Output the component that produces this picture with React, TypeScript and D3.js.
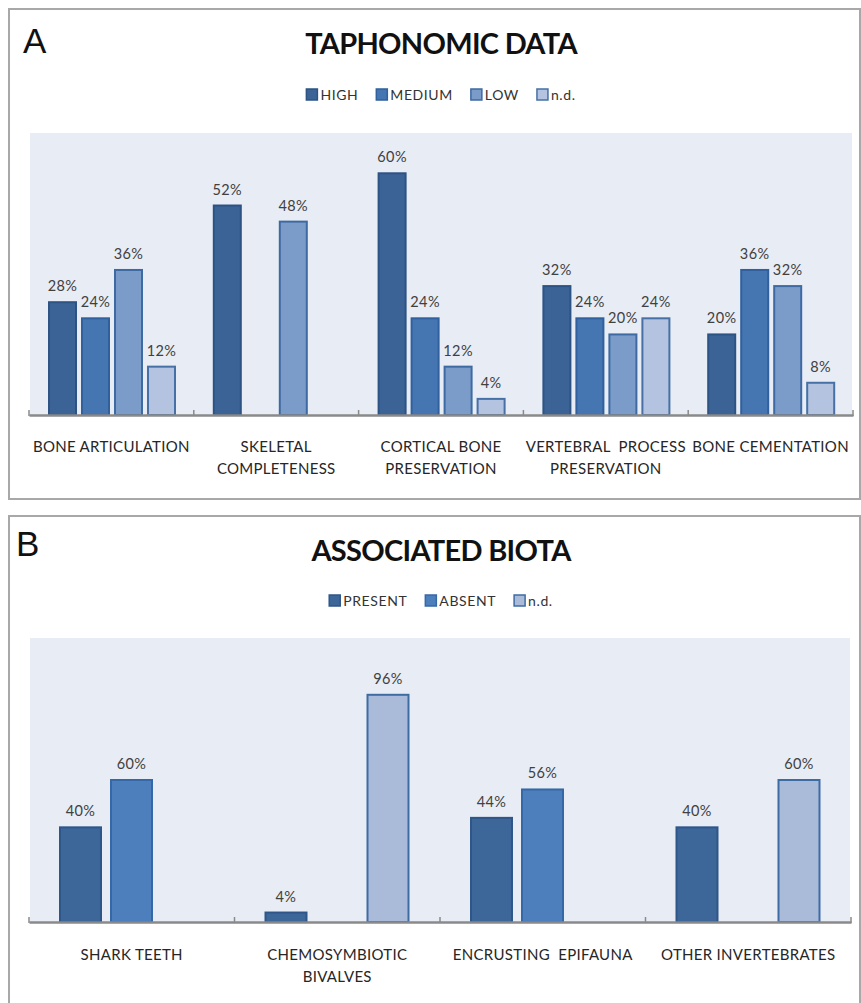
import React, { useEffect, useRef } from "react";
import * as d3 from "d3";

const WIDTH = 861;
const HEIGHT = 1003;

// Panel A – taphonomic data (percent of specimens)
const TAPHONOMY_CATEGORIES = [
  "BONE ARTICULATION",
  "SKELETAL\nCOMPLETENESS",
  "CORTICAL BONE\nPRESERVATION",
  "VERTEBRAL  PROCESS\nPRESERVATION",
  "BONE CEMENTATION",
];
const TAPHONOMY_SERIES = ["HIGH", "MEDIUM", "LOW", "n.d."];
const TAPHONOMY_HIGH = [28, 52, 60, 32, 20];
const TAPHONOMY_MEDIUM = [24, null, 24, 24, 36];
const TAPHONOMY_LOW = [36, 48, 12, 20, 32];
const TAPHONOMY_ND = [12, null, 4, 24, 8];

// Panel B – associated biota (percent of specimens)
const BIOTA_CATEGORIES = [
  "SHARK TEETH",
  "CHEMOSYMBIOTIC\nBIVALVES",
  "ENCRUSTING  EPIFAUNA",
  "OTHER INVERTEBRATES",
];
const BIOTA_SERIES = ["PRESENT", "ABSENT", "n.d."];
const BIOTA_PRESENT = [40, 4, 44, 40];
const BIOTA_ABSENT = [60, null, 56, null];
const BIOTA_ND = [null, 96, null, 60];

type Val = number | null;

interface PanelSpec {
  letter: string;
  title: string;
  categories: string[];
  series: string[];
  values: Val[][];
  fills: string[];
  strokes: string[];
  frame: { x: number; y: number; w: number; h: number };
  letterX: number;
  letterY: number;
  titleY: number;
  legendY: number;
  plotLeft: number;
  plotRight: number;
  plotTop: number;
  axisY: number;
  yMax: number;
  innerRange: [number, number];
  innerPadding: number;
  labelY: number;
}

const FONT = "Lato, 'Open Sans', sans-serif";

const panels: PanelSpec[] = [
  {
    letter: "A",
    title: "TAPHONOMIC DATA",
    categories: TAPHONOMY_CATEGORIES,
    series: TAPHONOMY_SERIES,
    values: [TAPHONOMY_HIGH, TAPHONOMY_MEDIUM, TAPHONOMY_LOW, TAPHONOMY_ND],
    fills: ["#3b6396", "#4676b1", "#7b9bc9", "#b4c4e0"],
    strokes: ["#2d5385", "#30609d", "#3e6aa3", "#4670a6"],
    frame: { x: 9, y: 9, w: 851, h: 490 },
    letterX: 23,
    letterY: 53,
    titleY: 54,
    legendY: 95,
    plotLeft: 29,
    plotRight: 853,
    plotTop: 133,
    axisY: 415,
    yMax: 70,
    innerRange: [19, 147],
    innerPadding: 0.121,
    labelY: 452,
  },
  {
    letter: "B",
    title: "ASSOCIATED BIOTA",
    categories: BIOTA_CATEGORIES,
    series: BIOTA_SERIES,
    values: [BIOTA_PRESENT, BIOTA_ABSENT, BIOTA_ND],
    fills: ["#3d6699", "#4d7fbc", "#aabad9"],
    strokes: ["#2f5689", "#3468a6", "#3f6ba3"],
    frame: { x: 9, y: 516, w: 851, h: 500 },
    letterX: 16,
    letterY: 556,
    titleY: 561,
    legendY: 601,
    plotLeft: 29,
    plotRight: 851,
    plotTop: 638,
    axisY: 922,
    yMax: 120,
    innerRange: [30, 175],
    innerPadding: 0.157,
    labelY: 960,
  },
];

function drawPanel(root: d3.Selection<SVGGElement, unknown, null, undefined>, p: PanelSpec) {
  const g = root.append("g");

  // frame
  g.append("rect")
    .attr("x", p.frame.x)
    .attr("y", p.frame.y)
    .attr("width", p.frame.w)
    .attr("height", p.frame.h)
    .attr("fill", "#ffffff")
    .attr("stroke", "#a8a8a8")
    .attr("stroke-width", 2);

  // panel letter
  g.append("text")
    .attr("x", p.letterX)
    .attr("y", p.letterY)
    .attr("font-family", "'Liberation Sans', Arial, sans-serif")
    .attr("font-size", 35)
    .attr("fill", "#111")
    .text(p.letter);

  // title
  g.append("text")
    .attr("x", 441)
    .attr("y", p.titleY)
    .attr("text-anchor", "middle")
    .attr("font-family", FONT)
    .attr("font-weight", 700)
    .attr("font-size", 29)
    .attr("letter-spacing", -0.7)
    .attr("fill", "#111")
    .text(p.title);

  // legend, centred on the title
  const legend = g.append("g");
  const items = legend
    .selectAll("g")
    .data(p.series)
    .join("g");
  items
    .append("rect")
    .attr("y", p.legendY - 6)
    .attr("width", 11)
    .attr("height", 11)
    .attr("fill", (_, i) => p.fills[i])
    .attr("stroke", (_, i) => p.strokes[i])
    .attr("stroke-width", 1.5);
  const legendTexts = items
    .append("text")
    .attr("x", 14)
    .attr("y", p.legendY + 5)
    .attr("font-family", FONT)
    .attr("font-size", 14)
    .attr("letter-spacing", 0.6)
    .attr("fill", "#333")
    .text((d) => d);
  let cursor = 0;
  const offsets: number[] = [];
  legendTexts.each(function () {
    offsets.push(cursor);
    cursor += 14 + (this as SVGTextElement).getComputedTextLength() + 18;
  });
  const total = cursor - 18;
  const start = 441 - total / 2;
  items.attr("transform", (_, i) => `translate(${start + offsets[i]},0)`);

  // plot area
  const x = d3
    .scaleBand<string>()
    .domain(p.categories)
    .range([p.plotLeft, p.plotRight])
    .paddingInner(0)
    .paddingOuter(0);
  const inner = d3
    .scaleBand<string>()
    .domain(p.series)
    .range(p.innerRange)
    .paddingInner(p.innerPadding)
    .paddingOuter(0);
  const y = d3
    .scaleLinear()
    .domain([0, p.yMax])
    .range([p.axisY, p.plotTop]);

  g.append("rect")
    .attr("x", p.plotLeft + 1)
    .attr("y", p.plotTop)
    .attr("width", p.plotRight - p.plotLeft - 2)
    .attr("height", p.axisY - p.plotTop)
    .attr("fill", "#e8ecf4");

  const groups = g
    .selectAll("g.cat")
    .data(p.categories)
    .join("g")
    .attr("class", "cat")
    .attr("transform", (d) => `translate(${x(d)},0)`);

  p.series.forEach((s, si) => {
    const rows = p.categories
      .map((c, ci) => ({ c, v: p.values[si][ci] }))
      .filter((r) => r.v !== null) as { c: string; v: number }[];
    const sg = g.append("g");
    sg.selectAll("rect")
      .data(rows)
      .join("rect")
      .attr("x", (r) => (x(r.c) as number) + (inner(s) as number) + 1)
      .attr("width", inner.bandwidth() - 2)
      .attr("y", (r) => y(r.v))
      .attr("height", (r) => p.axisY - y(r.v))
      .attr("fill", p.fills[si])
      .attr("stroke", p.strokes[si])
      .attr("stroke-width", 2);
    sg.selectAll("text")
      .data(rows)
      .join("text")
      .attr("x", (r) => (x(r.c) as number) + (inner(s) as number) + inner.bandwidth() / 2)
      .attr("y", (r) => y(r.v) - 11)
      .attr("text-anchor", "middle")
      .attr("font-family", FONT)
      .attr("font-size", 14.5)
      .attr("letter-spacing", 0.4)
      .attr("fill", "#404040")
      .text((r) => `${r.v}%`);
  });

  // category axis
  const axis = d3
    .axisBottom(x)
    .tickValues([])
    .tickSizeOuter(0);
  const axisG = g.append("g").attr("transform", `translate(0,${p.axisY})`).call(axis);
  axisG.select(".domain").attr("stroke", "#8a8a8a").attr("stroke-width", 2.5);
  const bounds = [...p.categories.map((c) => x(c) as number), p.plotRight];
  g.append("g")
    .selectAll("line")
    .data(bounds)
    .join("line")
    .attr("x1", (d) => d)
    .attr("x2", (d) => d)
    .attr("y1", p.axisY - 5)
    .attr("y2", p.axisY + 1)
    .attr("stroke", "#8a8a8a")
    .attr("stroke-width", 1.5);

  groups
    .append("text")
    .attr("x", x.bandwidth() / 2)
    .attr("y", p.labelY)
    .attr("text-anchor", "middle")
    .attr("font-family", FONT)
    .attr("font-size", 15)
    .attr("letter-spacing", 0.3)
    .attr("fill", "#262626")
    .style("white-space", "pre")
    .selectAll("tspan")
    .data((d) => d.split("\n"))
    .join("tspan")
    .attr("x", x.bandwidth() / 2)
    .attr("dy", (_, i) => (i === 0 ? 0 : 21.5))
    .text((d) => d);
}

export default function App() {
  const ref = useRef<SVGSVGElement | null>(null);

  useEffect(() => {
    if (!ref.current) return;
    const svg = d3.select(ref.current);
    svg.selectAll("*").remove();
    svg.append("rect").attr("width", WIDTH).attr("height", HEIGHT).attr("fill", "#ffffff");
    const root = svg.append("g") as d3.Selection<SVGGElement, unknown, null, undefined>;
    panels.forEach((p) => drawPanel(root, p));
  }, []);

  return (
    <svg
      ref={ref}
      width={WIDTH}
      height={HEIGHT}
      style={{ position: "absolute", left: 0, top: 0, display: "block" }}
    />
  );
}
